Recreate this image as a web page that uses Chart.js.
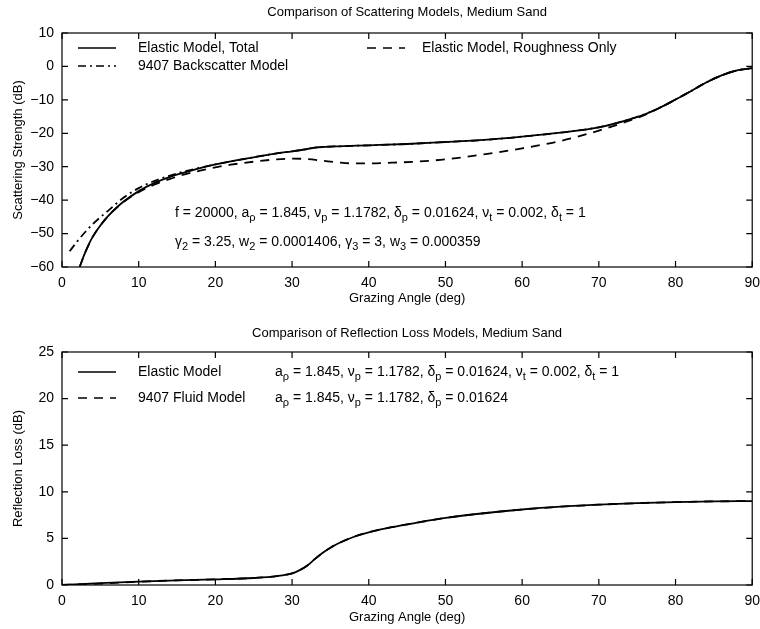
<!DOCTYPE html>
<html>
<head>
<meta charset="utf-8">
<script src="https://cdn.jsdelivr.net/npm/chart.js@4.4.1/dist/chart.umd.min.js"></script>
<style>
  html, body { margin: 0; padding: 0; background: #fff; }
  canvas { display: block; }
</style>
</head>
<body>
<canvas id="scatter" width="760" height="315"></canvas>
<canvas id="loss" width="760" height="314"></canvas>
<script>
// --- top panel: scattering strength (dB) vs grazing angle (deg)
const totalAngle = [2.3, 3, 3.5, 4, 5, 6, 7, 8, 10, 12, 14, 16, 18, 20, 22, 25, 28, 30, 32, 33, 34, 36, 40, 45, 50, 55, 60, 65, 70, 73, 76, 78, 80, 82, 84, 86, 88, 90];
const totalStrength = [-60, -55.8, -53.2, -51, -47.6, -44.8, -42.5, -40.5, -37.3, -34.9, -33.1, -31.7, -30.4, -29.3, -28.4, -27.2, -26, -25.4, -24.7, -24.3, -24.1, -23.9, -23.6, -23.2, -22.6, -22, -21, -19.8, -18.2, -16.5, -14.3, -12.3, -9.9, -7.4, -4.8, -2.7, -1.2, -0.5];

const roughAngle = [2.3, 3, 3.5, 4, 5, 6, 7, 8, 10, 12, 14, 16, 18, 20, 22, 25, 28, 30, 32, 34, 36, 38, 40, 43, 46, 50, 55, 60, 65, 70, 73, 76, 78, 80, 82, 84, 86, 88, 90];
const roughStrength = [-60, -55.8, -53.2, -51, -47.6, -44.8, -42.5, -40.6, -37.6, -35.4, -33.7, -32.3, -31.2, -30.2, -29.4, -28.5, -27.8, -27.6, -27.7, -28.2, -28.7, -29, -29, -28.8, -28.5, -27.8, -26.3, -24.5, -22.3, -19.2, -17, -14.5, -12.3, -9.9, -7.4, -4.8, -2.7, -1.2, -0.5];

const apl9407Angle = [1, 2, 3, 4, 5, 6, 8, 10, 12, 14, 16, 18, 20, 22, 25, 28, 30, 32, 33, 34, 36, 40, 45, 50, 55, 60, 65, 70, 73, 76, 78, 80, 82, 84, 86, 88, 90];
const apl9407Strength = [-55.3, -52.3, -49.6, -47.2, -45.1, -43.2, -39.3, -36.4, -34.3, -32.7, -31.4, -30.3, -29.3, -28.4, -27.2, -26, -25.4, -24.7, -24.3, -24.1, -23.9, -23.6, -23.2, -22.6, -22, -21, -19.8, -18.2, -16.5, -14.3, -12.3, -9.9, -7.4, -4.8, -2.7, -1.2, -0.5];

const scatterTicks = [-60, -50, -40, -30, -20, -10, 0, 10];

// --- bottom panel: reflection loss (dB)
const elasticAngle = [0, 5, 10, 15, 20, 25, 28, 30, 31, 32, 33, 34, 35, 36, 38, 40, 43, 46, 50, 55, 60, 65, 70, 75, 80, 85, 90];
const elasticLoss = [0, 0.2, 0.37, 0.5, 0.6, 0.75, 0.95, 1.25, 1.6, 2.1, 2.8, 3.45, 4.0, 4.45, 5.15, 5.65, 6.2, 6.65, 7.2, 7.7, 8.1, 8.4, 8.62, 8.78, 8.9, 8.97, 9.0];
const fluidAngle = [0, 5, 10, 15, 20, 25, 28, 30, 31, 32, 33, 34, 35, 36, 38, 40, 43, 46, 50, 55, 60, 65, 70, 75, 80, 85, 90];
const fluidLoss = [0, 0.15, 0.35, 0.5, 0.6, 0.75, 0.95, 1.25, 1.6, 2.1, 2.8, 3.45, 4.0, 4.45, 5.15, 5.65, 6.2, 6.65, 7.2, 7.7, 8.1, 8.4, 8.62, 8.78, 8.9, 8.97, 9.0];

const lossTicks = [0, 5, 10, 15, 20, 25];
const angleTicks = [0, 10, 20, 30, 40, 50, 60, 70, 80, 90];

const FONT = '"Liberation Sans", Arial, Helvetica, sans-serif';

function pts(xs, ys) {
    return xs.map((x, i) => ({ x: x, y: ys[i] }));
}

// text with single-char subscripts written as _x
function drawRich(ctx, s, x, y, size) {
    let cx = x;
    for (let i = 0; i < s.length; i++) {
        if (s[i] === '_' && i + 1 < s.length) {
            ctx.font = Math.round(size * 0.78) + 'px ' + FONT;
            ctx.fillText(s[i + 1], cx, y + size * 0.38);
            cx += ctx.measureText(s[i + 1]).width;
            i++;
        } else {
            ctx.font = size + 'px ' + FONT;
            ctx.fillText(s[i], cx, y);
            cx += ctx.measureText(s[i]).width;
        }
    }
}

const framePlugin = {
    id: 'frame',
    afterDraw(chart, args, opts) {
        const ctx = chart.ctx;
        const a = chart.chartArea;
        const xs = chart.scales.x, ys = chart.scales.y;
        ctx.save();
        ctx.strokeStyle = '#000';
        ctx.fillStyle = '#000';
        ctx.lineWidth = 1.2;
        ctx.setLineDash([]);
        ctx.strokeRect(a.left, a.top, a.right - a.left, a.bottom - a.top);
        // inward ticks on all four sides
        ctx.beginPath();
        xs.ticks.forEach(t => {
            const px = xs.getPixelForValue(t.value);
            ctx.moveTo(px, a.bottom); ctx.lineTo(px, a.bottom - 6);
            ctx.moveTo(px, a.top); ctx.lineTo(px, a.top + 6);
        });
        ys.ticks.forEach(t => {
            const py = ys.getPixelForValue(t.value);
            ctx.moveTo(a.left, py); ctx.lineTo(a.left + 6, py);
            ctx.moveTo(a.right, py); ctx.lineTo(a.right - 6, py);
        });
        ctx.stroke();

        // titles
        ctx.textAlign = 'center';
        ctx.textBaseline = 'middle';
        ctx.font = '13px ' + FONT;
        ctx.fillText(opts.title, (a.left + a.right) / 2, opts.titleY);
        ctx.fillText('Grazing Angle (deg)', (a.left + a.right) / 2, opts.xTitleY);
        ctx.save();
        ctx.translate(18, (a.top + a.bottom) / 2);
        ctx.rotate(-Math.PI / 2);
        ctx.fillText(opts.yTitle, 0, 0);
        ctx.restore();

        // legend
        ctx.textAlign = 'left';
        ctx.lineWidth = 1.5;
        opts.legend.forEach(item => {
            const ds = chart.data.datasets[item.ds];
            ctx.setLineDash(ds.borderDash || []);
            ctx.beginPath();
            ctx.moveTo(item.x, item.y);
            ctx.lineTo(item.x + 38, item.y);
            ctx.stroke();
            ctx.setLineDash([]);
            ctx.font = '14px ' + FONT;
            ctx.fillText(ds.label, item.tx, item.y);
        });

        // parameter notes
        opts.notes.forEach(n => drawRich(ctx, n.text, n.x, n.y, 14));
        ctx.restore();
    }
};

function makeChart(id, datasets, yMin, yMax, yTicks, padTop, xAxisH, frameOpts) {
    return new Chart(document.getElementById(id).getContext('2d'), {
        type: 'scatter',
        data: { datasets: datasets },
        options: {
            responsive: false,
            animation: false,
            devicePixelRatio: 1,
            layout: { padding: { top: padTop, right: 6, left: 0, bottom: 0 } },
            elements: { point: { radius: 0 } },
            scales: {
                x: {
                    type: 'linear', min: 0, max: 90,
                    afterBuildTicks: s => { s.ticks = angleTicks.map(v => ({ value: v })); },
                    afterFit: s => { s.height = xAxisH; },
                    grid: { display: false },
                    border: { display: false },
                    ticks: { color: '#000', padding: 0, font: { family: FONT, size: 14 } }
                },
                y: {
                    type: 'linear', min: yMin, max: yMax,
                    afterBuildTicks: s => { s.ticks = yTicks.map(v => ({ value: v })); },
                    afterFit: s => { s.width = 62; },
                    grid: { display: false },
                    border: { display: false },
                    ticks: {
                        color: '#000', padding: 0, font: { family: FONT, size: 14 },
                        callback: v => (v < 0 ? '\u2212' + Math.abs(v) : String(v))
                    }
                }
            },
            plugins: {
                legend: { display: false },
                tooltip: { enabled: false },
                frame: frameOpts
            }
        },
        plugins: [framePlugin]
    });
}

const lineBase = { showLine: true, fill: false, borderColor: '#000', borderWidth: 1.8, tension: 0.35, cubicInterpolationMode: 'monotone' };

makeChart('scatter', [
    Object.assign({ label: 'Elastic Model, Total', data: pts(totalAngle, totalStrength) }, lineBase),
    Object.assign({ label: '9407 Backscatter Model', data: pts(apl9407Angle, apl9407Strength), borderDash: [8, 4, 2, 4] }, lineBase),
    Object.assign({ label: 'Elastic Model, Roughness Only', data: pts(roughAngle, roughStrength), borderDash: [9, 7] }, lineBase)
], -60, 10, scatterTicks, 33, 48, {
    title: 'Comparison of Scattering Models, Medium Sand',
    titleY: 12,
    xTitleY: 298,
    yTitle: 'Scattering Strength (dB)',
    legend: [
        { ds: 0, x: 78, y: 48, tx: 138 },
        { ds: 1, x: 78, y: 66, tx: 138 },
        { ds: 2, x: 367, y: 48, tx: 422 }
    ],
    notes: [
        { text: 'f = 20000, a_\u03c1 = 1.845, \u03bd_p = 1.1782, \u03b4_p = 0.01624, \u03bd_t = 0.002, \u03b4_t = 1', x: 175, y: 213 },
        { text: '\u03b3_2 = 3.25, w_2 = 0.0001406, \u03b3_3 = 3, w_3 = 0.000359', x: 175, y: 242 }
    ]
});

makeChart('loss', [
    Object.assign({ label: 'Elastic Model', data: pts(elasticAngle, elasticLoss) }, lineBase),
    Object.assign({ label: '9407 Fluid Model', data: pts(fluidAngle, fluidLoss), borderDash: [9, 7] }, lineBase)
], 0, 25, lossTicks, 37, 44, {
    title: 'Comparison of Reflection Loss Models, Medium Sand',
    titleY: 18,
    xTitleY: 302,
    yTitle: 'Reflection Loss (dB)',
    legend: [
        { ds: 0, x: 78, y: 57, tx: 138 },
        { ds: 1, x: 78, y: 83, tx: 138 }
    ],
    notes: [
        { text: 'a_\u03c1 = 1.845, \u03bd_p = 1.1782, \u03b4_p = 0.01624, \u03bd_t = 0.002, \u03b4_t = 1', x: 275, y: 57 },
        { text: 'a_\u03c1 = 1.845, \u03bd_p = 1.1782, \u03b4_p = 0.01624', x: 275, y: 83 }
    ]
});
</script>
</body>
</html>
